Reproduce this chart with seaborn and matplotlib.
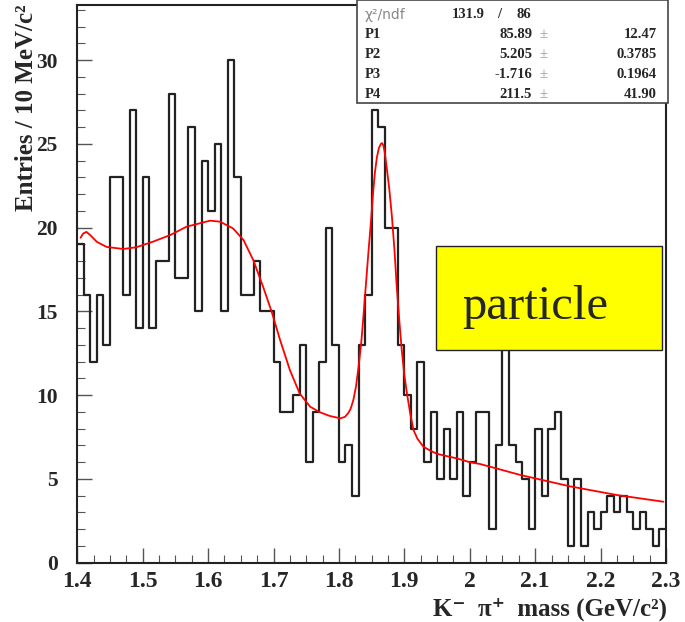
import numpy as np
import pandas as pd
import matplotlib
matplotlib.use("Agg")
import matplotlib.pyplot as plt
from matplotlib.patches import Rectangle
from matplotlib.ticker import MultipleLocator
import seaborn as sns

# ---------------- data ----------------
bin_lo, bin_hi, n_bins = 1.4, 2.3, 90
counts = [19, 16, 12, 16, 13, 23, 23, 16, 27, 14,
          23, 14, 18, 18, 28, 17, 17, 26, 15, 24,
          21, 25, 15, 30, 23, 16, 16, 18, 15, 15,
          12, 9, 9, 10, 13, 6, 9, 12, 20, 13,
          6, 7, 4, 13, 16, 27, 26, 20, 20, 13,
          10, 8, 12, 6, 9, 5, 8, 5, 9, 4,
          6, 9, 9, 2, 7, 16, 7, 6, 5, 2,
          8, 4, 8, 9, 5, 1, 5, 1, 3, 2,
          3, 4, 3, 4, 3, 2, 3, 2, 1, 2]

fit_mass = [1.405, 1.409, 1.414, 1.420, 1.430, 1.445, 1.470, 1.490, 1.516, 1.542,
            1.567, 1.603, 1.618, 1.638, 1.654, 1.669, 1.684, 1.697, 1.710, 1.725,
            1.740, 1.756, 1.771, 1.786, 1.802, 1.809, 1.814, 1.818, 1.822, 1.826,
            1.830, 1.834, 1.837, 1.841, 1.845, 1.849, 1.852, 1.855, 1.858, 1.861,
            1.864, 1.866, 1.868, 1.870, 1.873, 1.877, 1.881, 1.885, 1.888, 1.892,
            1.896, 1.900, 1.904, 1.909, 1.914, 1.920, 1.929, 1.940, 1.950, 1.965,
            1.980, 2.000, 2.016, 2.077, 2.153, 2.225, 2.296]
fit_val = [19.40, 19.65, 19.75, 19.55, 19.15, 18.85, 18.73, 18.83, 19.17, 19.56,
           20.06, 20.42, 20.36, 19.96, 19.27, 18.07, 16.48, 15.00, 13.30, 11.50,
           10.10, 9.31, 8.98, 8.76, 8.62, 8.70, 8.92, 9.20, 9.71, 10.50,
           11.70, 13.10, 14.50, 16.50, 18.50, 20.40, 22.00, 23.30, 24.20, 24.75,
           25.00, 25.05, 24.90, 24.50, 23.60, 22.30, 20.66, 18.60, 16.68, 14.60,
           12.70, 11.20, 10.10, 8.90, 7.92, 7.40, 6.93, 6.68, 6.50, 6.36,
           6.23, 6.00, 5.89, 5.24, 4.56, 4.04, 3.64]

x_ticks = [1.4, 1.5, 1.6, 1.7, 1.8, 1.9, 2.0, 2.1, 2.2, 2.3]
x_tick_labels = ["1.4", "1.5", "1.6", "1.7", "1.8", "1.9", "2", "2.1", "2.2", "2.3"]
y_ticks = [0, 5, 10, 15, 20, 25, 30]
y_tick_labels = ["0", "5", "10", "15", "20", "25", "30"]

chi2_val, ndf_val = "131.9", "86"
par_names = ["P1", "P2", "P3", "P4"]
par_vals = ["85.89", "5.205", "-1.716", "211.5"]
par_errs = ["12.47", "0.3785", "0.1964", "41.90"]

x_title = "K\u207b  \u03c0\u207a  mass (GeV/c\u00b2)"
y_title = "Entries / 10 MeV/c\u00b2"
box_label = "particle"

# ---------------- style ----------------
sns.set_theme(style="white")
plt.rcParams["font.family"] = ["Liberation Serif", "DejaVu Serif"]

W, H = 685, 622
fig = plt.figure(figsize=(W / 100, H / 100), dpi=100)
fig.patch.set_facecolor("white")

def fx(px):
    return px / W

def fy(py):
    return 1 - py / H

x0, x1, y0, y1 = 77.3, 666.0, 562.7, 5.0
ax = fig.add_axes([fx(x0), fy(y0), fx(x1) - fx(x0), fy(y1) - fy(y0)])
ax.set_facecolor("white")

edges = [bin_lo + i * (bin_hi - bin_lo) / n_bins for i in range(n_bins + 1)]
centers = [(edges[i] + edges[i + 1]) / 2 for i in range(n_bins)]
hist_df = pd.DataFrame({"mass": centers, "entries": counts})
sns.histplot(data=hist_df, x="mass", weights="entries", bins=edges,
             element="step", fill=False, color="#222222", linewidth=1.6, ax=ax)

fit_df = pd.DataFrame({"mass": fit_mass, "val": fit_val})
sns.lineplot(data=fit_df, x="mass", y="val", color="#ff0000", linewidth=1.3,
             sort=False, estimator=None, ax=ax)

ax.set_xlim(bin_lo, bin_hi)
ax.set_ylim(0, (y0 - y1) / 16.75)
ax.set_xlabel("")
ax.set_ylabel("")

ax.set_xticks(x_ticks, labels=x_tick_labels, fontweight="bold", fontsize=17)
ax.set_yticks(y_ticks, labels=y_tick_labels, fontweight="bold", fontsize=15.5)
ax.xaxis.set_minor_locator(MultipleLocator(0.025))
ax.yaxis.set_minor_locator(MultipleLocator(1))
ax.tick_params(axis="both", which="both", direction="in", color="#555555",
               bottom=True, left=True, top=False, right=False)
ax.tick_params(axis="x", which="major", length=11, width=1, pad=6)
ax.tick_params(axis="x", which="minor", length=6, width=0.8)
ax.tick_params(axis="y", which="major", length=11, width=1, pad=14)
ax.tick_params(axis="y", which="minor", length=6, width=0.8)
for sp in ax.spines.values():
    sp.set_visible(True)
    sp.set_color("#222222")
    sp.set_linewidth(1.5)

# axis titles
fig.text(fx(26.5), fy(4), y_title, rotation=90, ha="center", va="top",
         fontsize=18, fontweight="bold")
fig.text(fx(667), fy(616), x_title, ha="right", va="baseline",
         fontsize=18, fontweight="bold")

# stats box
fig.add_artist(Rectangle((fx(357), fy(103)), fx(668) - fx(357), fy(0) - fy(103),
                         transform=fig.transFigure, facecolor="white",
                         edgecolor="#444444", linewidth=1.2, zorder=5))
stat_fs = 10.5
row_y = [15, 35, 55, 75, 95]
fig.text(fx(365), fy(row_y[0]), "\u03c7\u00b2/ndf", ha="left", va="center",
         fontsize=10, color="#888888", family=["DejaVu Sans"], zorder=6)
fig.text(fx(485), fy(row_y[0]), chi2_val, ha="right", va="center",
         fontsize=stat_fs, fontweight="bold", zorder=6)
fig.text(fx(499), fy(row_y[0]), "/", ha="center", va="center",
         fontsize=stat_fs, fontweight="bold", zorder=6)
fig.text(fx(531), fy(row_y[0]), ndf_val, ha="right", va="center",
         fontsize=stat_fs, fontweight="bold", zorder=6)
for i, (nm, v, e) in enumerate(zip(par_names, par_vals, par_errs)):
    yy = fy(row_y[i + 1])
    fig.text(fx(365), yy, nm, ha="left", va="center", fontsize=stat_fs,
             fontweight="bold", zorder=6)
    fig.text(fx(532), yy, v, ha="right", va="center", fontsize=stat_fs,
             fontweight="bold", zorder=6)
    fig.text(fx(543), yy, "\u00b1", ha="center", va="center", fontsize=stat_fs,
             color="#999999", zorder=6)
    fig.text(fx(657), yy, e, ha="right", va="center", fontsize=stat_fs,
             fontweight="bold", zorder=6)

# yellow label box
fig.add_artist(Rectangle((fx(436), fy(350)), fx(662) - fx(436), fy(246) - fy(350),
                         transform=fig.transFigure, facecolor="#ffff00",
                         edgecolor="#222222", linewidth=1.0, zorder=5))
fig.text(fx(462), fy(319), box_label, ha="left", va="baseline", fontsize=35,
         zorder=6)

fig.savefig("out.png", dpi=100, facecolor="white")
